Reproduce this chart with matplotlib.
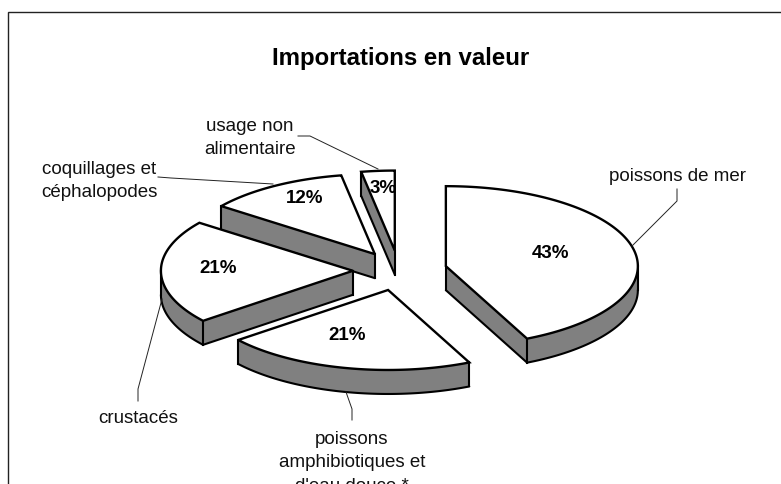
import numpy as np
import matplotlib
matplotlib.use('Agg')
import matplotlib.pyplot as plt
from matplotlib.patches import Polygon, Rectangle

plt.rcParams['font.family'] = ['Liberation Sans', 'DejaVu Sans']

# donnees
title = 'Importations en valeur'
categories = ['poissons de mer', 'poissons\namphibiotiques et\nd\'eau douce *', 'crustacés',
              'coquillages et\ncéphalopodes', 'usage non\nalimentaire']
values = [43.05, 21.2, 21.0, 11.95, 2.8]

# geometrie du camembert, en pixels
cx, cy = 399, 271.5
rx, ry = 192, 80
explode = [0.25, 0.25, 0.24, 0.24, 0.25]
depth = 24
gray = '#808080'

# position des etiquettes et des traits de rappel
label_xy = [(677.5, 177), (352, 463), (138.5, 419), (99, 181), (250, 138)]
leaders = [[(632, 247), (677, 202), (677, 190)],
           [(346, 393), (352, 410), (352, 421)],
           [(162, 300), (138, 390), (138, 402)],
           [(273, 185), (171, 179), (158, 178)],
           [(378, 170), (310, 137), (298, 137)]]
pct_xy = [(551, 253), (347, 336), (218, 269), (305, 199), (383, 189)]

fig = plt.figure(figsize=(7.81, 4.85), dpi=100)
ax = fig.add_axes([0, 0, 1, 1])
ax.set_xlim(0, 781)
ax.set_ylim(485, 0)
ax.axis('off')

# cadre : seuls les bords gauche et haut sont dans l'image
ax.add_patch(Rectangle((8, 13), 800, 500, fc='white', ec='#222222', lw=1.0))


def slice_outline(a0, a1, ox, oy):
    # angles dans le sens horaire a partir du haut
    t = np.radians(np.linspace(a0, a1, 120))
    xs = np.concatenate([[ox], ox + rx * np.sin(t)])
    ys = np.concatenate([[oy], oy - ry * np.cos(t)])
    return xs, ys


start = 0.0
total = sum(values)
slices = []
for v in values:
    a1 = start + 360.0 * v / total
    slices.append((start, a1))
    start = a1

for (a0, a1), ex in zip(slices, explode):
    mid = np.radians((a0 + a1) / 2)
    ox = cx + ex * rx * np.sin(mid)
    oy = cy - ex * ry * np.cos(mid)
    xs, ys = slice_outline(a0, a1, ox, oy)
    n = len(xs)
    # un segment parcouru vers la gauche montre sa face avant
    front = [xs[(i + 1) % n] - xs[i] < -1e-6 for i in range(n)]

    # une bande grise par suite de segments visibles
    run = []
    for i in range(n + 1):
        k = i % n
        if i < n and front[k]:
            if not run:
                run.append(k)
            run.append((k + 1) % n)
        elif run:
            top = [(xs[r], ys[r]) for r in run]
            bottom = [(xs[r], ys[r] + depth) for r in reversed(run)]
            ax.add_patch(Polygon(top + bottom, fc=gray, ec='none', zorder=2))
            ax.plot([p[0] for p in bottom], [p[1] for p in bottom], color='black', lw=1.5,
                    solid_capstyle='round', zorder=3)
            ax.plot([top[0][0], top[0][0]], [top[0][1], top[0][1] + depth], color='black', lw=1.5, zorder=3)
            ax.plot([top[-1][0], top[-1][0]], [top[-1][1], top[-1][1] + depth], color='black', lw=1.5, zorder=3)
            run = []
    # aretes aux coins entre deux segments visibles
    for i in (0, 1, n - 1):
        if front[i] and front[i - 1]:
            ax.plot([xs[i], xs[i]], [ys[i], ys[i] + depth], color='black', lw=1.5, zorder=3)

    ax.add_patch(Polygon(np.column_stack([xs, ys]), closed=True, fc='white', ec='black', lw=1.7,
                         joinstyle='miter', zorder=4))

for pts in leaders:
    p = np.array(pts)
    ax.plot(p[:, 0], p[:, 1], color='#222222', lw=0.7, zorder=5)

for name, (x, y) in zip(categories, label_xy):
    ax.text(x, y, name, ha='center', va='center', fontsize=13.5, linespacing=1.52, color='#111111', zorder=6)

for v, (x, y) in zip(values, pct_xy):
    ax.text(x, y, f'{v:.0f}%', ha='center', va='center', fontsize=13.5, fontweight='bold',
            color='black', zorder=6)

ax.text(401, 58, title, ha='center', va='center', fontsize=17.3, fontweight='bold', color='black', zorder=6)

fig.savefig('out.png', dpi=100)
